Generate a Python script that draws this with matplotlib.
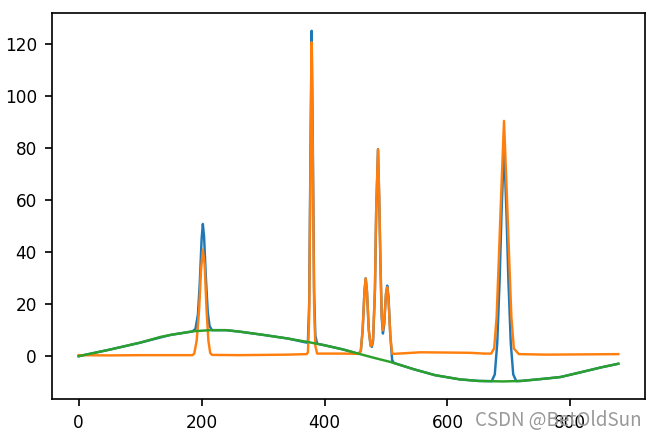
import matplotlib
matplotlib.use("Agg")
import matplotlib.pyplot as plt

# green baseline curve
base_x = [0, 50, 100, 133, 150, 187, 214, 240, 263, 300, 340, 372, 400, 430, 458,
          480, 507, 545, 580, 620, 650, 690, 720, 760, 784, 820, 850, 878]
base_y = [0.0, 2.5, 5.2, 7.4, 8.2, 9.6, 10.0, 10.0, 9.4, 8.2, 6.8, 5.5, 4.2, 2.6, 0.8,
          -0.6, -2.2, -5.0, -7.3, -8.9, -9.5, -9.7, -9.5, -8.6, -8.0, -6.0, -4.3, -2.9]

# blue raw signal
raw_x = [0, 50, 100, 150, 185, 190, 194, 197, 200, 202, 204, 207, 210, 213, 217,
         240, 263, 300, 340, 371, 373, 375, 377, 379, 381, 383, 385, 388, 400, 430,
         455, 459, 462, 465, 467, 469, 472, 475, 477, 479, 482, 484, 487, 489, 491,
         493, 495, 497, 500, 502, 504, 507, 510, 513, 545, 580, 620, 650, 672, 677,
         681, 685, 688, 692, 696, 699, 703, 707, 712, 720, 760, 784, 820, 850, 878]
raw_y = [0.0, 2.5, 5.2, 8.2, 9.5, 10.5, 16, 28, 45, 50.8, 46, 30, 17, 11.5, 10.0,
         10.0, 9.4, 8.2, 6.8, 5.2, 6, 20, 75, 125, 80, 25, 8, 4.8, 4.2, 2.6,
         0.9, 2, 10, 25, 29.9, 25, 10, 4, 3.6, 6, 25, 55, 79.5, 60, 35,
         15, 8.7, 12, 24, 27.1, 23, 8, -1.5, -2.6, -5.0, -7.3, -8.9, -9.5, -9.6, -7,
         5, 30, 55, 81.4, 55, 30, 5, -7, -9.6, -9.5, -8.6, -8.0, -6.0, -4.3, -2.9]

# orange corrected signal
corr_x = [0, 50, 100, 150, 185, 188, 192, 196, 199, 202, 205, 208, 211, 214, 217,
          260, 300, 340, 371, 373, 375, 377, 379, 381, 383, 385, 388, 400, 430,
          455, 459, 462, 465, 467, 469, 472, 475, 477, 479, 482, 484, 487, 489, 491,
          493, 495, 497, 500, 502, 504, 507, 510, 513, 556, 600, 637, 660, 671, 676,
          680, 684, 688, 692, 696, 700, 704, 708, 716, 760, 820, 878]
corr_y = [0.4, 0.3, 0.4, 0.4, 0.4, 1.0, 6, 18, 33, 40.9, 35, 18, 6, 1.2, 0.5,
          0.4, 0.5, 0.6, 0.8, 1.5, 15, 70, 120.6, 75, 20, 4, 1.0, 1.0, 1.0,
          0.9, 2, 10, 25, 29.9, 25, 10, 4, 4.2, 7, 26, 56, 79.5, 61, 36,
          16, 10.0, 13, 24, 26.5, 22, 8, 1.0, 0.9, 1.5, 1.4, 1.3, 1.0, 1.0, 3,
          15, 40, 66, 90.4, 66, 40, 15, 3, 0.8, 0.6, 0.7, 0.8]

plt.rcParams["xtick.labelsize"] = 8
plt.rcParams["ytick.labelsize"] = 8

fig, ax = plt.subplots(figsize=(657 / 152, 437 / 152), dpi=152)
fig.subplots_adjust(left=0.0787, right=0.9822, bottom=0.087, top=0.9696)
ax.plot(raw_x, raw_y, lw=1.15)
ax.plot(corr_x, corr_y, lw=1.15)
ax.plot(base_x, base_y, lw=1.15)

fig.text(0.977, 0.038, "CSDN @BetOldSun", ha="right", va="center", color="#999999",
         fontsize=8.9, family=["Noto Sans CJK SC", "DejaVu Sans"])

fig.savefig("out.png", dpi=152)
